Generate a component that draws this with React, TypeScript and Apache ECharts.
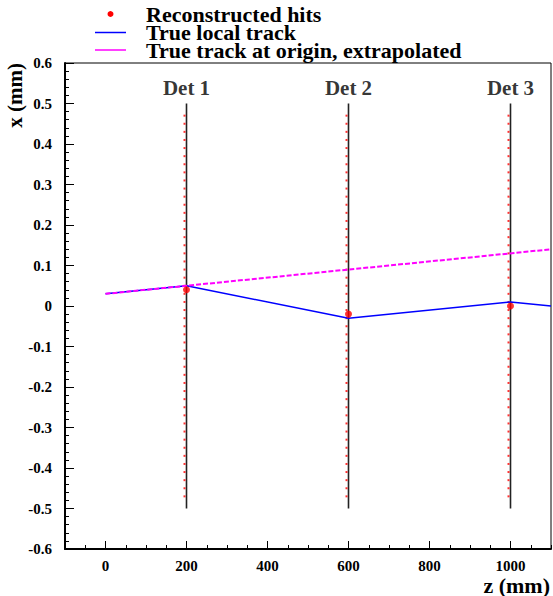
import React, { useEffect, useRef } from "react";
import * as echarts from "echarts";

// ---- data ----
const detNames = ["Det 1", "Det 2", "Det 3"];
const detZ = [200, 600, 1000];
const detHalfHeight = 0.5;
// strip centres drawn on each detector (mm)
const stripX = [
  -0.47, -0.45, -0.43, -0.41, -0.39, -0.37, -0.35, -0.33, -0.31, -0.29, -0.27, -0.25,
  -0.23, -0.21, -0.19, -0.17, -0.15, -0.13, -0.11, -0.09, -0.07, -0.05, -0.03, -0.01,
  0.01, 0.03, 0.05, 0.07, 0.09, 0.11, 0.13, 0.15, 0.17, 0.19, 0.21, 0.23, 0.25, 0.27,
  0.29, 0.31, 0.33, 0.35, 0.37, 0.39, 0.41, 0.43, 0.45, 0.47,
];
const hitZ = [200, 600, 1000];
const hitX = [0.04, -0.02, 0.0];
const trackZ = [0, 200, 600, 1000, 1100];
const trackX = [0.03, 0.05, -0.03, 0.01, 0.0];
const extrapZ = [0, 1100];
const extrapX = [0.03, 0.14];
const xMajorTicks = [0, 200, 400, 600, 800, 1000];
const legendLabels = [
  "Reconstructed hits",
  "True local track",
  "True track at origin, extrapolated",
];

const FONT = "'Liberation Serif', 'Times New Roman', serif";

export default function App() {
  const ref = useRef<HTMLDivElement>(null);
  useEffect(() => {
    if (!ref.current) return;
    const chart = echarts.init(ref.current, undefined, { renderer: "svg" });

    const detSeries = detZ.map((z, i) => ({
      type: "line",
      name: detNames[i],
      data: [
        [z, -detHalfHeight],
        [z, detHalfHeight],
      ],
      showSymbol: false,
      symbol: "none",
      lineStyle: { color: "#222", width: 1.6 },
      silent: true,
      z: 2,
    }));

    const stripData: number[][] = [];
    detZ.forEach((z) => stripX.forEach((x) => stripData.push([z, x])));

    const option: any = {
      animation: false,
      textStyle: { fontFamily: FONT },
      grid: {
        left: 65,
        top: 63,
        width: 486,
        height: 486,
        show: true,
        borderColor: "#000",
        borderWidth: 1,
        backgroundColor: "transparent",
      },
      xAxis: [
        {
          type: "value",
          min: -100,
          max: 1100,
          interval: 50,
          position: "bottom",
          splitLine: { show: false },
          axisLine: { show: true, onZero: false, lineStyle: { color: "#000", width: 2 } },
          axisTick: {
            show: true,
            inside: true,
            length: 8,
            customValues: xMajorTicks,
            lineStyle: { color: "#000", width: 1 },
          },
          axisLabel: {
            show: true,
            customValues: xMajorTicks,
            formatter: (v: number) => String(v),
            margin: 9,
            color: "#000",
            fontFamily: FONT,
            fontWeight: "bold",
            fontSize: 15,
          },
        },
        {
          type: "value",
          min: -100,
          max: 1100,
          interval: 50,
          position: "bottom",
          splitLine: { show: false },
          axisLine: { show: false, onZero: false },
          axisTick: {
            show: true,
            inside: true,
            length: 4,
            lineStyle: { color: "#000", width: 1 },
          },
          axisLabel: { show: false },
        },
      ],
      yAxis: {
        type: "value",
        min: -0.6,
        max: 0.6,
        interval: 0.1,
        splitLine: { show: false },
        axisLine: { show: true, onZero: false, lineStyle: { color: "#000", width: 2 } },
        axisTick: {
          show: true,
          inside: true,
          length: 9,
          lineStyle: { color: "#000", width: 1 },
        },
        minorTick: {
          show: true,
          splitNumber: 5,
          length: 4,
          lineStyle: { color: "#000", width: 1 },
        },
        minorSplitLine: { show: false },
        axisLabel: {
          margin: 13,
          color: "#000",
          fontFamily: FONT,
          fontWeight: "bold",
          fontSize: 15,
        },
      },
      series: [
        ...detSeries,
        {
          type: "scatter",
          name: "strips",
          data: stripData,
          symbol: "rect",
          symbolSize: [2, 2],
          symbolOffset: [-2, 0],
          itemStyle: { color: "#ff0000" },
          silent: true,
          z: 3,
        },
        {
          type: "line",
          name: legendLabels[1],
          data: trackZ.map((z, i) => [z, trackX[i]]),
          showSymbol: false,
          symbol: "none",
          lineStyle: { color: "#0000ff", width: 1.5 },
          silent: true,
          z: 4,
        },
        {
          type: "line",
          name: legendLabels[2],
          data: extrapZ.map((z, i) => [z, extrapX[i]]),
          showSymbol: false,
          symbol: "none",
          lineStyle: { color: "#ff00ff", width: 2, type: [5, 2] },
          silent: true,
          z: 5,
        },
        {
          type: "scatter",
          name: legendLabels[0],
          data: hitZ.map((z, i) => [z, hitX[i]]),
          symbol: "circle",
          symbolSize: 7,
          itemStyle: { color: "#ff0000" },
          silent: true,
          z: 6,
        },
        {
          type: "scatter",
          name: "det labels",
          data: detZ.map((z) => [z, detHalfHeight]),
          symbolSize: 0,
          silent: true,
          label: {
            show: true,
            position: "top",
            distance: 5,
            formatter: (p: any) => detNames[p.dataIndex],
            color: "#000",
            fontFamily: FONT,
            fontWeight: "bold",
            fontSize: 21,
          },
          z: 7,
        },
      ],
      graphic: [
        // legend
        { type: "circle", shape: { cx: 110.5, cy: 14, r: 3 }, style: { fill: "#ff0000" } },
        { type: "line", shape: { x1: 95, y1: 32.5, x2: 126, y2: 32.5 }, style: { stroke: "#0000ff", lineWidth: 1.5 } },
        { type: "line", shape: { x1: 95, y1: 50, x2: 126, y2: 50 }, style: { stroke: "#ff00ff", lineWidth: 1.5 } },
        {
          type: "text",
          x: 146,
          y: 5,
          style: {
            text: legendLabels.join("\n"),
            fill: "#000",
            font: `bold 22px ${FONT}`,
            lineHeight: 18,
            textAlign: "left",
            textVerticalAlign: "top",
          },
        },
        // axis titles
        {
          type: "text",
          x: 15,
          y: 63,
          rotation: Math.PI / 2,
          style: {
            text: "x (mm)",
            fill: "#000",
            font: `bold 21px ${FONT}`,
            textAlign: "right",
            textVerticalAlign: "middle",
          },
        },
        {
          type: "text",
          x: 550,
          y: 585,
          style: {
            text: "z (mm)",
            fill: "#000",
            font: `bold 22px ${FONT}`,
            textAlign: "right",
            textVerticalAlign: "middle",
          },
        },
      ],
    };

    chart.setOption(option);
    return () => chart.dispose();
  }, []);

  return (
    <div
      ref={ref}
      style={{ width: 553, height: 596, position: "absolute", left: 0, top: 0, background: "#fff" }}
    />
  );
}
